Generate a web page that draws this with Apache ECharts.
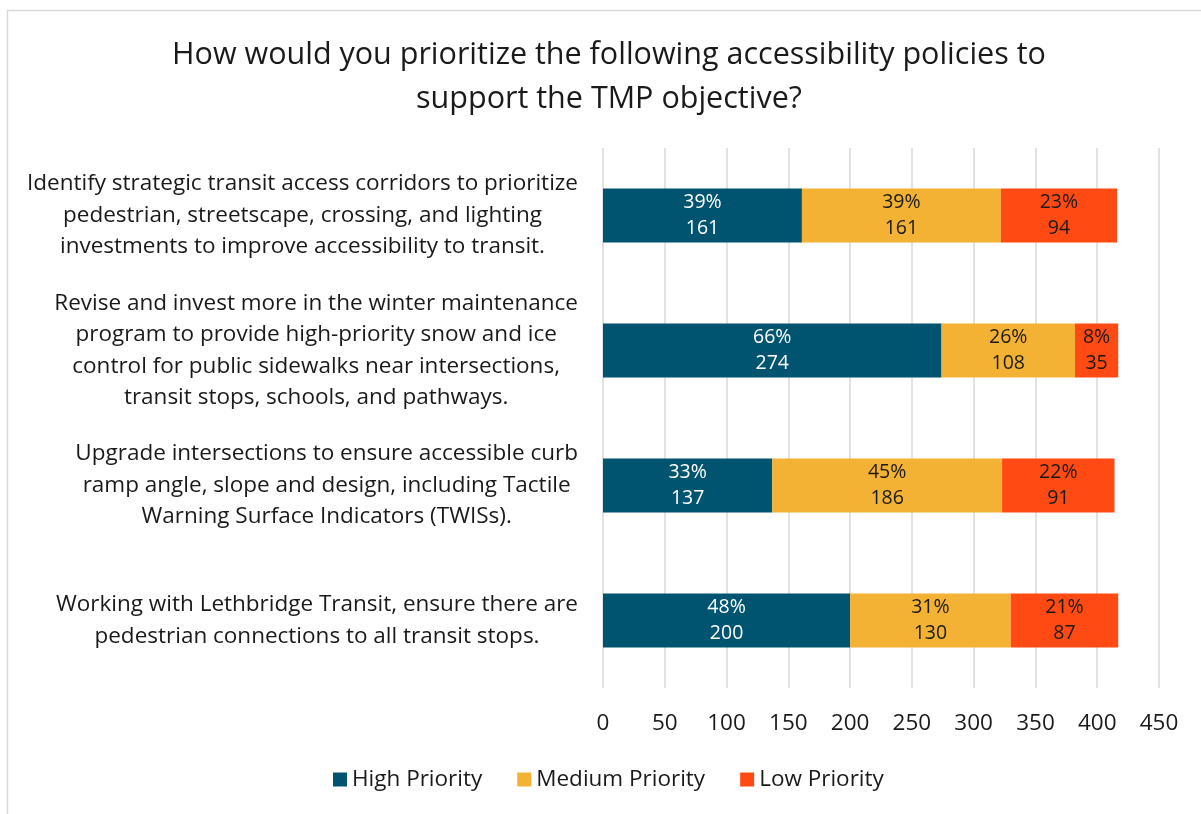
<!DOCTYPE html>
<html><head><meta charset="utf-8">
<script src="https://cdn.jsdelivr.net/npm/echarts@6/dist/echarts.min.js"></script>
<style>html,body{margin:0;padding:0;background:#fff}#c{width:1201px;height:814px}</style>
</head><body><div id="c"></div>
<script>
const categories = [
  "Identify strategic transit access corridors to prioritize\npedestrian, streetscape, crossing, and lighting\ninvestments to improve accessibility to transit.",
  "Revise and invest more in the winter maintenance\nprogram to provide high-priority snow and ice\ncontrol for public sidewalks near intersections,\ntransit stops, schools, and pathways.",
  "Upgrade intersections to ensure accessible curb\nramp angle, slope and design, including Tactile\nWarning Surface Indicators (TWISs).",
  "Working with Lethbridge Transit, ensure there are\npedestrian connections to all transit stops."
];
const seriesNames = ["High Priority", "Medium Priority", "Low Priority"];
const highValues = [161, 274, 137, 200];
const mediumValues = [161, 108, 186, 130];
const lowValues = [94, 35, 91, 87];
const highPct = ["39%", "66%", "33%", "48%"];
const mediumPct = ["39%", "26%", "45%", "31%"];
const lowPct = ["23%", "8%", "22%", "21%"];
const xTicks = [0, 50, 100, 150, 200, 250, 300, 350, 400, 450];

const FONT = "Open Sans";
const colors = ["#01546F", "#F4B234", "#FF4A14"];
const values = [highValues, mediumValues, lowValues];
const pcts = [highPct, mediumPct, lowPct];
const labelColors = ["#ffffff", "#1a1a1a", "#1a1a1a"];

const chart = echarts.init(document.getElementById('c'), null, {renderer: 'canvas'});
chart.setOption({
  backgroundColor: '#fff',
  animation: false,
  textStyle: {fontFamily: FONT},
  graphic: [{
    type: 'rect', shape: {x: 7.5, y: 10.5, width: 1400, height: 1000},
    style: {fill: 'none', stroke: '#d9d9d9', lineWidth: 1.5}, silent: true
  }],
  title: {
    text: "How would you prioritize the following accessibility policies to\nsupport the TMP objective?",
    left: 604, top: 28,
    textAlign: 'center',
    textStyle: {fontFamily: FONT, fontSize: 30.5, fontWeight: 'normal', color: '#1a1a1a', lineHeight: 44}
  },
  legend: {
    bottom: 18, left: 328,
    itemWidth: 14, itemHeight: 14, itemGap: 35,
    icon: 'rect',
    textStyle: {fontFamily: FONT, fontSize: 22.5, color: '#1a1a1a'},
    data: seriesNames
  },
  grid: {left: 603, right: 42, top: 148, bottom: 126, containLabel: false},
  xAxis: {
    type: 'value', min: 0, max: 450, interval: 50,
    axisLine: {show: false}, axisTick: {show: false},
    splitLine: {lineStyle: {color: '#d9d9d9', width: 1.5}},
    axisLabel: {fontFamily: FONT, fontSize: 22.5, color: '#1a1a1a', margin: 24,
      formatter: v => xTicks.includes(v) ? String(v) : ''}
  },
  yAxis: {
    type: 'category', data: categories, inverse: true,
    axisLine: {show: false}, axisTick: {show: false},
    axisLabel: {
      fontFamily: FONT, fontSize: 22.5, color: '#1a1a1a', lineHeight: 31.5,
      align: 'right', margin: 25,
      formatter: v => v.split('\n').map(l => '{c|' + l + '}').join('\n'),
      rich: {c: {align: 'center', fontFamily: FONT, fontSize: 22.5, color: '#1a1a1a', lineHeight: 31.5}}
    }
  },
  series: seriesNames.map((name, si) => ({
    name, type: 'bar', stack: 'total', barCategoryGap: '60%',
    data: values[si],
    itemStyle: {color: colors[si]},
    label: {
      show: true, position: 'inside', fontFamily: FONT, fontSize: 19.5, lineHeight: 26,
      color: labelColors[si],
      formatter: p => pcts[si][p.dataIndex] + '\n' + p.value
    }
  })),
  color: colors
});
</script></body></html>
